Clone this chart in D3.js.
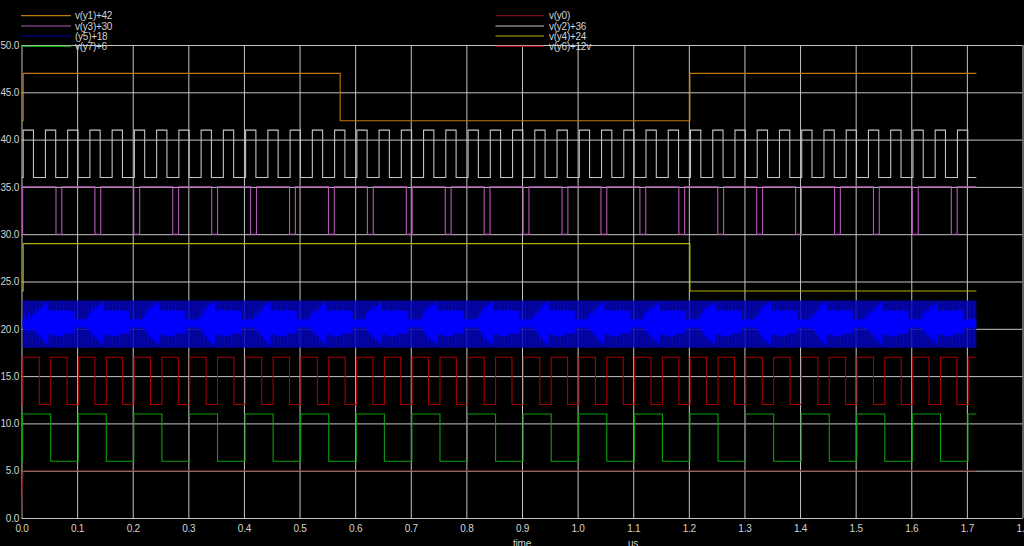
<!DOCTYPE html>
<html>
<head>
<meta charset="utf-8">
<script src="https://cdn.jsdelivr.net/npm/d3@7"></script>
<style>
  html, body { margin: 0; padding: 0; background: #000; overflow: hidden; }
  svg { display: block; }
  text { font-family: "Liberation Sans", Arial, sans-serif; font-size: 10px; letter-spacing: -0.25px; fill: #d2d2d2; }
</style>
</head>
<body>
<svg id="chart" width="1024" height="546"></svg>
<script>
// ---- transient result, time in microseconds ----
const tEnd = 1.717;
const vHigh = 5;

const xTicks = [0, 0.1, 0.2, 0.3, 0.4, 0.5, 0.6, 0.7, 0.8, 0.9, 1.0, 1.1, 1.2, 1.3, 1.4, 1.5, 1.6, 1.7, 1.8];
const yTicks = [0, 5, 10, 15, 20, 25, 30, 35, 40, 45, 50];

// v(y0): supply ramp
const y0T = [0, 0.001, 0.003, tEnd];
const y0V = [0, 2.5, 5, 5];

// v(y1)+42
const y1Rise = [0.003, 1.202];
const y1Fall = [0.573];

// v(y2)+36
const y2Rise = [0.003, 0.043, 0.083, 0.123, 0.163, 0.203, 0.243, 0.283, 0.323, 0.363, 0.403, 0.443, 0.483, 0.523,
  0.563, 0.603, 0.643, 0.683, 0.723, 0.763, 0.803, 0.843, 0.883, 0.923, 0.963, 1.003, 1.043, 1.083, 1.123, 1.163,
  1.203, 1.243, 1.283, 1.323, 1.363, 1.403, 1.443, 1.483, 1.523, 1.563, 1.603, 1.643, 1.683];
const y2Fall = [0.0215, 0.0615, 0.1015, 0.1415, 0.1815, 0.2215, 0.2615, 0.3015, 0.3415, 0.3815, 0.4215, 0.4615,
  0.5015, 0.5415, 0.5815, 0.6215, 0.6615, 0.7015, 0.7415, 0.7815, 0.8215, 0.8615, 0.9015, 0.9415, 0.9815, 1.0215,
  1.0615, 1.1015, 1.1415, 1.1815, 1.2215, 1.2615, 1.3015, 1.3415, 1.3815, 1.4215, 1.4615, 1.5015, 1.5415, 1.5815,
  1.6215, 1.6615, 1.7015];

// v(y3)+30
const y3Rise = [0.002, 0.0725, 0.1425, 0.2125, 0.2825, 0.3525, 0.4225, 0.4925, 0.5625, 0.6325, 0.7025, 0.7725,
  0.8425, 0.9125, 0.9825, 1.0525, 1.1225, 1.1925, 1.2625, 1.3325, 1.4025, 1.4725, 1.5425, 1.6125, 1.6825];
const y3Fall = [0.062, 0.132, 0.202, 0.272, 0.342, 0.412, 0.482, 0.552, 0.622, 0.692, 0.762, 0.832, 0.902, 0.972,
  1.042, 1.112, 1.182, 1.252, 1.322, 1.392, 1.462, 1.532, 1.602, 1.672];

// v(y4)+24
const y4Rise = [0.003];
const y4Fall = [1.202];

// v(y5)+18: fast toggling, drawn as its swing band plus the dense burst envelope
const y5BandT = [0.002, tEnd];
const y5BandLo = [18, 18];
const y5BandHi = [23, 23];
const y5LeadT = [0.002, 0.005, 0.008, 0.011, 0.014];
const y5LeadLo = [20.15, 19.7, 20.0, 19.6, 20.0];
const y5LeadHi = [21.0, 21.5, 21.1, 21.7, 21.2];
const y5Burst = [0.017, 0.117, 0.217, 0.317, 0.417, 0.517, 0.617, 0.717, 0.817, 0.917, 1.017, 1.117, 1.217,
  1.317, 1.417, 1.517, 1.617];
const y5ShapeDt = [0, 0.002, 0.004, 0.006, 0.008, 0.010, 0.012, 0.014, 0.016, 0.018, 0.020, 0.022, 0.024, 0.026,
  0.028, 0.030, 0.031, 0.040, 0.042, 0.058, 0.060, 0.077, 0.078];
const y5ShapeHi = [21.0, 21.6, 21.3, 21.9, 21.5, 22.1, 21.8, 22.3, 22.0, 22.5, 22.3, 22.6, 22.5, 22.8, 22.7, 22.95,
  21.9, 22.2, 21.9, 22.1, 21.9, 21.9, 21.0];
const y5ShapeLo = [20.15, 19.9, 20.0, 19.6, 19.8, 19.3, 19.5, 19.0, 19.2, 18.8, 18.9, 18.6, 18.7, 18.4, 18.5, 18.15,
  19.4, 19.4, 19.2, 19.4, 19.5, 19.5, 20.15];

// v(y6)+12
const y6Rise = [0.0025, 0.0525, 0.1025, 0.1525, 0.2025, 0.2525, 0.3025, 0.3525, 0.4025, 0.4525, 0.5025, 0.5525,
  0.6025, 0.6525, 0.7025, 0.7525, 0.8025, 0.8525, 0.9025, 0.9525, 1.0025, 1.0525, 1.1025, 1.1525, 1.2025, 1.2525,
  1.3025, 1.3525, 1.4025, 1.4525, 1.5025, 1.5525, 1.6025, 1.6525, 1.7025];
const y6Fall = [0.032, 0.082, 0.132, 0.182, 0.232, 0.282, 0.332, 0.382, 0.432, 0.482, 0.532, 0.582, 0.632, 0.682,
  0.732, 0.782, 0.832, 0.882, 0.932, 0.982, 1.032, 1.082, 1.132, 1.182, 1.232, 1.282, 1.332, 1.382, 1.432, 1.482,
  1.532, 1.582, 1.632, 1.682];

// v(y7)+6
const y7Rise = [0.002, 0.102, 0.202, 0.302, 0.402, 0.502, 0.602, 0.702, 0.802, 0.902, 1.002, 1.102, 1.202, 1.302,
  1.402, 1.502, 1.602, 1.702];
const y7Fall = [0.0525, 0.1525, 0.2525, 0.3525, 0.4525, 0.5525, 0.6525, 0.7525, 0.8525, 0.9525, 1.0525, 1.1525,
  1.2525, 1.3525, 1.4525, 1.5525, 1.6525];

// legend entries
const legendLeft = ["v(y1)+42", "v(y3)+30", "(y5)+18", "v(y7)+6"];
const legendRight = ["v(y0)", "v(y2)+36", "v(y4)+24", "v(y6)+12v"];

// ---- layout ----
const svg = d3.select("#chart");
const W = 1024, H = 546;
const plot = { left: 21.5, right: 1022.5, top: 45, bottom: 518 };
const x = d3.scaleLinear().domain([0, 1.8]).range([plot.left, plot.right]);
const y = d3.scaleLinear().domain([0, 50]).range([plot.bottom, plot.top]);

const colors = {
  y0: "#741010", y1: "#c27a06", y2: "#c4c4c4", y3: "#b458b4",
  y4: "#b0b000", y5: "#0000ff", y6: "#a80000", y7: "#0aa00a"
};

svg.append("rect").attr("width", W).attr("height", H).attr("fill", "#000");

svg.append("defs").append("clipPath").attr("id", "plotClip")
  .append("rect").attr("x", plot.left).attr("y", plot.top - 1)
  .attr("width", plot.right - plot.left + 1).attr("height", plot.bottom - plot.top + 2);

// stripe texture of the fast-toggling band
const pat = svg.select("defs").append("pattern").attr("id", "bandStripes")
  .attr("patternUnits", "userSpaceOnUse").attr("width", 3.5).attr("height", 10);
pat.append("rect").attr("width", 3.5).attr("height", 10).attr("fill", "#0000c6");
pat.append("rect").attr("width", 1.3).attr("height", 10).attr("fill", "#0c0ca6");

// ---- grid and axes ----
const gx = svg.append("g").attr("transform", `translate(0,${plot.bottom})`)
  .call(d3.axisBottom(x).tickValues(xTicks).tickFormat(d3.format(".1f"))
    .tickSize(-(plot.bottom - plot.top)).tickPadding(7));
const gy = svg.append("g").attr("transform", `translate(${plot.left},0)`)
  .call(d3.axisLeft(y).tickValues(yTicks).tickFormat(d3.format(".1f"))
    .tickSize(-(plot.right - plot.left)).tickPadding(2.5));
[gx, gy].forEach(g => {
  g.select(".domain").remove();
  g.selectAll(".tick line").attr("stroke", "#c4c4c4").attr("stroke-width", 1);
  g.selectAll(".tick text").attr("fill", "#d2d2d2").style("font-size", "10px")
    .style("font-family", "'Liberation Sans', Arial, sans-serif");
});

svg.append("text").attr("x", 522).attr("y", 547).attr("text-anchor", "middle").text("time");
svg.append("text").attr("x", 633).attr("y", 547).attr("text-anchor", "middle").text("us");

// ---- waveforms ----
const g = svg.append("g").attr("clip-path", "url(#plotClip)");
const line = d3.line().x(d => x(d[0])).y(d => y(d[1]));

function stepWave(rises, falls, offset) {
  const ev = rises.map(t => ({ t, v: 1 })).concat(falls.map(t => ({ t, v: 0 })))
    .sort((a, b) => a.t - b.t);
  let lvl = 0;
  const pts = [[0, offset]];
  ev.forEach(e => {
    pts.push([e.t, offset + vHigh * lvl]);
    lvl = e.v;
    pts.push([e.t, offset + vHigh * lvl]);
  });
  pts.push([tEnd, offset + vHigh * lvl]);
  return pts;
}

// y5 band
const band = y5BandT.map((t, i) => [t, y5BandLo[i], y5BandHi[i]]);
g.append("path").datum(band)
  .attr("d", d3.area().x(d => x(d[0])).y0(d => y(d[1])).y1(d => y(d[2])))
  .attr("fill", "url(#bandStripes)").attr("opacity", 0.86);

// y5 burst envelope
const env = y5LeadT.map((t, i) => [t, y5LeadLo[i], y5LeadHi[i]]);
y5Burst.forEach(c => {
  y5ShapeDt.forEach((dt, i) => env.push([c + dt, y5ShapeLo[i], y5ShapeHi[i]]));
});
env.push([tEnd, env[env.length - 1][1], env[env.length - 1][2]]);
g.append("path").datum(env)
  .attr("d", d3.area().curve(d3.curveStepAfter).x(d => x(d[0])).y0(d => y(d[1])).y1(d => y(d[2])))
  .attr("fill", colors.y5);

const waves = [
  { id: "y0", pts: y0T.map((t, i) => [t, y0V[i]]) },
  { id: "y7", pts: stepWave(y7Rise, y7Fall, 6) },
  { id: "y6", pts: stepWave(y6Rise, y6Fall, 12) },
  { id: "y4", pts: stepWave(y4Rise, y4Fall, 24) },
  { id: "y3", pts: stepWave(y3Rise, y3Fall, 30) },
  { id: "y2", pts: stepWave(y2Rise, y2Fall, 36) },
  { id: "y1", pts: stepWave(y1Rise, y1Fall, 42) }
];
g.selectAll("path.wave").data(waves).join("path").attr("class", "wave")
  .attr("d", d => line(d.pts)).attr("fill", "none")
  .attr("stroke", d => colors[d.id]).attr("stroke-width", 1.1);

// ---- legend ----
const legLeftColors = [colors.y1, colors.y3, "#0000b4", colors.y7];
const legRightColors = [colors.y0, colors.y2, colors.y4, colors.y6];
const rowY = [15.7, 26, 36, 46.3];
function legendCol(labels, cols, x0, x1, tx) {
  const lg = svg.append("g");
  labels.forEach((lab, i) => {
    lg.append("line").attr("x1", x0).attr("x2", x1).attr("y1", rowY[i]).attr("y2", rowY[i])
      .attr("stroke", cols[i]).attr("stroke-width", 1.2);
    lg.append("text").attr("x", tx).attr("y", rowY[i]).attr("dy", "0.35em").text(lab);
  });
}
legendCol(legendLeft, legLeftColors, 21, 71, 75);
legendCol(legendRight, legRightColors, 495.5, 544, 549);
</script>
</body>
</html>
